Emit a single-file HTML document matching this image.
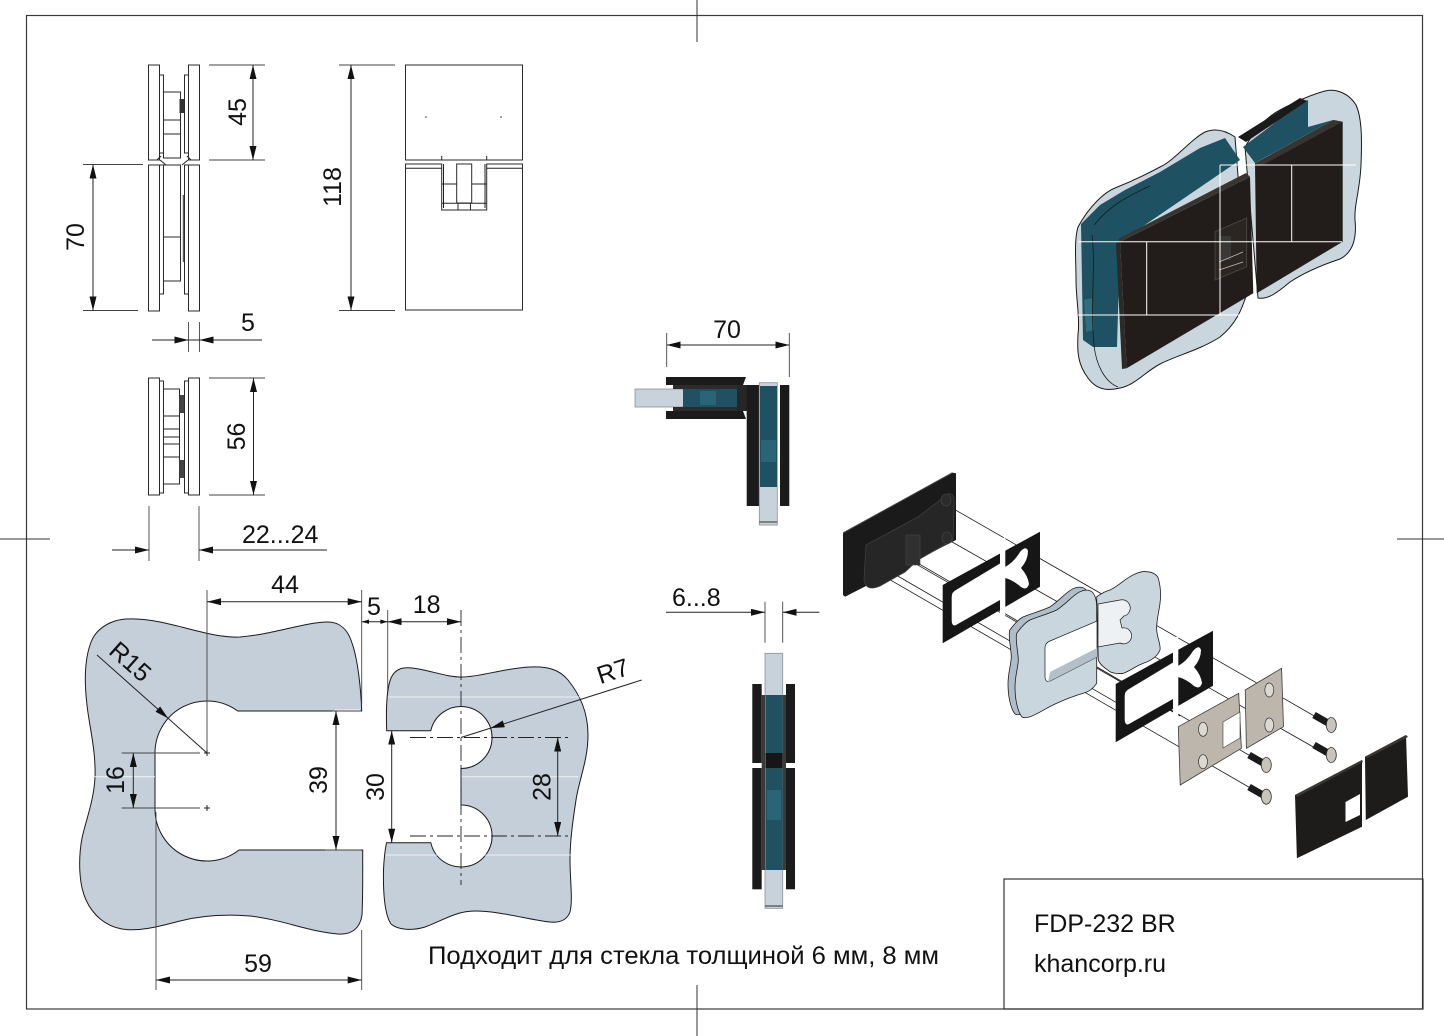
<!DOCTYPE html>
<html><head><meta charset="utf-8">
<style>
html,body{margin:0;padding:0;background:#fff;}
svg{display:block;}
text{font-family:"Liberation Sans",Arial,sans-serif;font-size:25px;fill:#111;}
.l{stroke:#222;stroke-width:1;fill:none;}
.e{stroke:#444;stroke-width:0.9;fill:none;}
.o{stroke:#2a2a2a;stroke-width:1;fill:#fff;}
.c{stroke:#222;stroke-width:0.9;fill:none;stroke-dasharray:16,4,3,4;}
.g{fill:#c4cfd9;stroke:#1a1a1a;stroke-width:1;}
.t{stroke:#1a1a1a;stroke-width:0.8;fill:none;}
.w{stroke:#fff;stroke-width:1;fill:none;}
</style></head>
<body>
<svg width="1444" height="1036" viewBox="0 0 1444 1036" xmlns="http://www.w3.org/2000/svg">
<defs>
<marker id="a" viewBox="0 0 14 7" refX="14" refY="3.5" markerWidth="14" markerHeight="7" markerUnits="userSpaceOnUse" orient="auto-start-reverse"><path d="M0,0L14,3.5L0,7z" fill="#111"/></marker>
</defs>
<rect width="1444" height="1036" fill="#fff"/>
<!-- frame -->
<rect x="26.5" y="15.5" width="1396" height="993.5" fill="none" stroke="#3a3a3a" stroke-width="1.2"/>
<line x1="697" y1="0" x2="697" y2="42" stroke="#333"/>
<line x1="697" y1="985" x2="697" y2="1036" stroke="#333"/>
<line x1="0" y1="539" x2="50" y2="539" stroke="#333"/>
<line x1="1397" y1="539" x2="1444" y2="539" stroke="#333"/>
<rect x="1004" y="879" width="419" height="130" fill="none" stroke="#333" stroke-width="1.2"/>
<text x="1034" y="932">FDP-232 BR</text>
<text x="1034" y="972">khancorp.ru</text>

<!-- ============ SIDE VIEW (top-left) ============ -->
<g>
<rect class="o" x="148.5" y="65" width="11" height="95"/>
<rect class="o" x="188.5" y="65" width="11" height="95"/>
<rect class="o" x="159.5" y="75" width="4" height="78"/>
<rect class="o" x="184.5" y="75" width="4" height="78"/>
<rect class="o" x="163.5" y="92" width="17" height="66"/>
<line class="o" x1="163.5" y1="120" x2="180.5" y2="120"/>
<line class="o" x1="163.5" y1="134" x2="180.5" y2="134"/>
<rect x="179.5" y="99" width="4.5" height="14" fill="#333"/>
<path class="l" d="M157,160 L161,156 M166,165 L160,160 M191,160 L187,156 M182,165 L188,160" stroke-width="0.7"/>
<rect class="o" x="148.5" y="165" width="11" height="146"/>
<rect class="o" x="188.5" y="165" width="11" height="146"/>
<rect class="o" x="159.5" y="165" width="4" height="129"/>
<rect class="o" x="184.5" y="165" width="4" height="129"/>
<rect class="o" x="163.5" y="165" width="17" height="116"/>
<line class="o" x1="163.5" y1="237" x2="180.5" y2="237"/>
<line x1="183.3" y1="195" x2="183.3" y2="262" stroke="#333" stroke-width="1"/>
<!-- dims -->
<line class="e" x1="209" y1="65" x2="265" y2="65"/>
<line class="e" x1="209" y1="160" x2="265" y2="160"/>
<line class="l" x1="253" y1="65" x2="253" y2="160" marker-start="url(#a)" marker-end="url(#a)"/>
<text transform="translate(237,112) rotate(-90)" text-anchor="middle" y="9">45</text>
<line class="e" x1="83" y1="164.5" x2="143" y2="164.5"/>
<line class="e" x1="83" y1="310.5" x2="138" y2="310.5"/>
<line class="l" x1="93" y1="164.5" x2="93" y2="310.5" marker-start="url(#a)" marker-end="url(#a)"/>
<text transform="translate(75,237) rotate(-90)" text-anchor="middle" y="9">70</text>
<line class="e" x1="188.5" y1="322" x2="188.5" y2="352"/>
<line class="e" x1="199.5" y1="322" x2="199.5" y2="352"/>
<line class="l" x1="152" y1="340" x2="188.5" y2="340" marker-end="url(#a)"/>
<line class="l" x1="262" y1="340" x2="199.5" y2="340" marker-end="url(#a)"/>
<line class="l" x1="188.5" y1="340" x2="199.5" y2="340"/>
<text x="248" y="331" text-anchor="middle">5</text>
</g>

<!-- ============ BOTTOM VIEW ============ -->
<g>
<rect class="o" x="148.5" y="378" width="11" height="117"/>
<rect class="o" x="188.5" y="378" width="11" height="117"/>
<rect class="o" x="159.5" y="381" width="4" height="112"/>
<rect class="o" x="184.5" y="381" width="4" height="112"/>
<rect class="o" x="163.5" y="389" width="16" height="95"/>
<path class="l" d="M163.5,416H179.5M163.5,429H179.5M163.5,437H179.5M163.5,444H179.5M163.5,457H179.5" stroke-width="0.8"/>
<rect x="179.5" y="395" width="4.5" height="18" fill="#444"/>
<rect x="179.5" y="460" width="4.5" height="18" fill="#444"/>
<line class="e" x1="209" y1="378" x2="265" y2="378"/>
<line class="e" x1="209" y1="495" x2="265" y2="495"/>
<line class="l" x1="253.5" y1="378" x2="253.5" y2="495" marker-start="url(#a)" marker-end="url(#a)"/>
<text transform="translate(236,436.5) rotate(-90)" text-anchor="middle" y="9">56</text>
<line class="e" x1="149" y1="506" x2="149" y2="561"/>
<line class="e" x1="199" y1="506" x2="199" y2="561"/>
<line class="l" x1="112" y1="550" x2="149" y2="550" marker-end="url(#a)"/>
<line class="l" x1="327" y1="550" x2="199" y2="550" marker-end="url(#a)"/>
<text x="242" y="543">22...24</text>
</g>

<!-- ============ FRONT VIEW (118) ============ -->
<g>
<rect class="o" x="405.5" y="65" width="117" height="95"/>
<path class="o" d="M405.5,164H441.7V210H486.7V164H522.5V310H405.5Z"/>
<path class="l" d="M405.5,168.3H441.7M486.7,168.3H522.5M443.5,164V208M485,164V208" stroke-width="0.8"/>
<rect class="o" x="456.7" y="164" width="15" height="39"/>
<path class="l" d="M441.7,184H456.7M471.7,184H486.7M441.7,203.3H486.7" stroke-width="0.9"/>
<rect class="o" x="458" y="203.3" width="12.5" height="6.7"/>
<path class="l" d="M441.7,160V156M486.7,160V156" stroke-width="0.8"/>
<circle cx="426" cy="117" r="0.8" fill="#333"/>
<circle cx="501" cy="117" r="0.8" fill="#333"/>
<line class="e" x1="339" y1="65" x2="395" y2="65"/>
<line class="e" x1="339" y1="310.5" x2="395" y2="310.5"/>
<line class="l" x1="351" y1="65" x2="351" y2="310.5" marker-start="url(#a)" marker-end="url(#a)"/>
<text transform="translate(332,187) rotate(-90)" text-anchor="middle" y="9">118</text>
</g>

<!-- ============ LEFT GLASS CUTOUT ============ -->
<g>
<path class="g" d="M361.7,711 C361,690 358,660 352,643 C348,630 340,622 328,622 C305,622 275,634 240,637 C215,638 190,628 160,622 C140,618 125,618 115,621 C103,625 94,632 90,645 C85,660 84,680 87,705 C89,725 96,750 95,777 C94,800 86,820 82,838 C78,860 79,885 86,900 C93,915 105,926 122,929 C140,932 160,926 180,921 C200,916 225,914 250,916 C280,919 310,932 338,934 C352,935 360,928 362,915 C363,895 362.7,870 362.7,850 L239,850 A52,52 0 0 1 155,809 L155,753 A52,52 0 0 1 237.7,711 Z"/>
<line class="w" x1="82" y1="776.7" x2="155" y2="776.7" stroke-opacity="0.8"/>
<line class="w" x1="335" y1="710" x2="360" y2="710" stroke-opacity="0.8"/>
<path class="l" d="M204,753H210M207,750V756M204,808H210M207,805V811" stroke-width="0.9"/>
<!-- 44 -->
<line class="e" x1="207" y1="590" x2="207" y2="750"/>
<line class="e" x1="361.7" y1="590" x2="361.7" y2="705"/>
<line class="l" x1="207" y1="601.7" x2="361.7" y2="601.7" marker-start="url(#a)" marker-end="url(#a)"/>
<text x="285" y="593" text-anchor="middle">44</text>
<!-- 5 -->
<line class="e" x1="387.7" y1="610" x2="387.7" y2="728"/>
<line class="l" x1="361.7" y1="621.7" x2="387.7" y2="621.7"/>
<path d="M361.7,621.7L369,619.5L369,623.9Z M387.7,621.7L380.4,619.5L380.4,623.9Z" fill="#111"/>
<text x="374" y="615" text-anchor="middle">5</text>
<!-- 59 -->
<line class="e" x1="156" y1="812" x2="156" y2="990"/>
<line class="e" x1="361.7" y1="930" x2="361.7" y2="990"/>
<line class="l" x1="156" y1="980" x2="361.7" y2="980" marker-start="url(#a)" marker-end="url(#a)"/>
<text x="258" y="972" text-anchor="middle">59</text>
<!-- 16 -->
<line class="e" x1="121.7" y1="753" x2="200" y2="753"/>
<line class="e" x1="121.7" y1="808" x2="200" y2="808"/>
<line class="l" x1="133.3" y1="753" x2="133.3" y2="808" marker-start="url(#a)" marker-end="url(#a)"/>
<text transform="translate(115,780) rotate(-90)" text-anchor="middle" y="9">16</text>
<!-- 39 -->
<line class="e" x1="332" y1="711" x2="361" y2="711" stroke-width="0.6"/>
<line class="e" x1="325" y1="850" x2="361" y2="850" stroke-width="0.6"/>
<line class="l" x1="336" y1="711" x2="336" y2="850" marker-start="url(#a)" marker-end="url(#a)"/>
<text transform="translate(318,780) rotate(-90)" text-anchor="middle" y="9">39</text>
<!-- R15 -->
<line class="l" x1="97" y1="655" x2="168.2" y2="718.4" marker-end="url(#a)"/>
<line class="l" x1="168.2" y1="718.4" x2="207" y2="753"/>
<text transform="translate(130,662) rotate(41.7)" text-anchor="middle" y="8">R15</text>
</g>

<!-- ============ RIGHT GLASS CUTOUT ============ -->
<g>
<path class="g" d="M386.7,730.7 C386,712 386,690 391,678 C395,669 402,667 412,668 C430,670 445,677 462,677 C480,677 505,668 530,667 C548,666 560,670 568,680 C580,695 588,712 588,735 C588,760 579,780 576,800 C573,820 570,840 570,860 C570,880 573,900 570,912 C567,920 560,923 550,922 C530,920 500,911 475,911 C455,911 440,922 425,927 C412,931 398,930 391,924 C385,915 383,895 383.5,870 C384,858 385,850 386.5,842.7 L430.8,842.7 A31,31 0 1 0 461,805 L461,768.5 A31,31 0 1 0 430.8,730.7 Z"/>
<line class="w" x1="388" y1="697" x2="583" y2="697" stroke-opacity="0.7"/>
<line class="w" x1="461" y1="776.7" x2="578" y2="776.7" stroke-opacity="0.7"/>
<line class="w" x1="386" y1="855" x2="572" y2="855" stroke-opacity="0.7"/>
<line class="c" x1="410" y1="737.5" x2="568" y2="737.5"/>
<line class="c" x1="410" y1="836" x2="568" y2="836"/>
<line class="c" x1="461" y1="610" x2="461" y2="885"/>
<line class="l" x1="387.7" y1="621.7" x2="461" y2="621.7" marker-start="url(#a)" marker-end="url(#a)"/>
<text x="426.7" y="613" text-anchor="middle">18</text>
<line class="l" x1="391.7" y1="730.7" x2="391.7" y2="842.7" marker-start="url(#a)" marker-end="url(#a)"/>
<text transform="translate(375,787) rotate(-90)" text-anchor="middle" y="9">30</text>
<line class="l" x1="557.7" y1="737.5" x2="557.7" y2="836" marker-start="url(#a)" marker-end="url(#a)"/>
<text transform="translate(541.7,787) rotate(-90)" text-anchor="middle" y="9">28</text>
<line class="l" x1="641.7" y1="680" x2="490.5" y2="728.1" marker-end="url(#a)"/>
<line class="l" x1="490.5" y1="728.1" x2="461" y2="737.5"/>
<text transform="translate(613,671.7) rotate(-18)" text-anchor="middle" y="8">R7</text>
</g>

<text x="428" y="964" font-size="23" textLength="511" lengthAdjust="spacingAndGlyphs">Подходит для стекла толщиной 6 мм, 8 мм</text>

<!-- ============ CORNER VIEW (70) ============ -->
<g>
<line class="e" x1="666.7" y1="333" x2="666.7" y2="367"/>
<line class="e" x1="789.3" y1="333" x2="789.3" y2="377"/>
<line class="l" x1="666.7" y1="345" x2="789.3" y2="345" marker-start="url(#a)" marker-end="url(#a)"/>
<text x="727" y="338" text-anchor="middle">70</text>
<rect x="635" y="389" width="49" height="18" fill="#c8d2da" stroke="#8a9299" stroke-width="0.8"/>
<rect x="683" y="389" width="54" height="18" fill="#1f5163"/>
<rect x="700" y="391" width="16" height="14" fill="#2a6477"/>
<polygon points="666,377 746,377 743,385 666,385" fill="#1b1b1b"/>
<rect x="673" y="385" width="64" height="4" fill="#2c2c2c"/>
<rect x="673" y="407" width="64" height="4" fill="#2c2c2c"/>
<polygon points="666,411 743,411 746,419 666,419" fill="#1b1b1b"/>
<rect x="737" y="385" width="10" height="26" fill="#262626"/>
<rect x="746.7" y="385" width="12.6" height="121" fill="#1b1b1b"/>
<rect x="780" y="385" width="9.3" height="121" fill="#1b1b1b"/>
<rect x="759.3" y="382.7" width="18" height="142.3" fill="#c8d2da" stroke="#8a9299" stroke-width="0.8"/>
<rect x="760" y="386" width="17" height="101" fill="#1f5163"/>
<rect x="761" y="440" width="15" height="22" fill="#2a6477"/>
<line x1="759.3" y1="522" x2="777.3" y2="522" stroke="#666" stroke-width="1.5"/>
</g>

<!-- ============ SIDE VIEW 6...8 ============ -->
<g>
<line class="e" x1="765" y1="601.7" x2="765" y2="642.7"/>
<line class="e" x1="782.7" y1="601.7" x2="782.7" y2="642.7"/>
<line class="l" x1="666" y1="612.3" x2="765" y2="612.3" marker-end="url(#a)"/>
<line class="l" x1="819.3" y1="612.3" x2="782.7" y2="612.3" marker-end="url(#a)"/>
<text x="672" y="606">6...8</text>
<rect x="765" y="653.3" width="17.7" height="255" fill="#c8d2da" stroke="#8a9299" stroke-width="0.8"/>
<rect x="765.5" y="695" width="17" height="59" fill="#1f5163"/>
<rect x="765.5" y="753" width="17" height="15" fill="#161616"/>
<rect x="765.5" y="768" width="17" height="102" fill="#1f5163"/>
<rect x="767" y="790" width="14" height="30" fill="#2a6477"/>
<rect x="752.3" y="684" width="9.4" height="79" fill="#1b1b1b"/>
<rect x="752.3" y="768" width="9.4" height="121.3" fill="#1b1b1b"/>
<rect x="786" y="684" width="9" height="79" fill="#1b1b1b"/>
<rect x="786" y="768" width="9" height="121.3" fill="#1b1b1b"/>
<rect x="761.7" y="695" width="3.3" height="175" fill="#3a3a3a"/>
<rect x="782.7" y="695" width="3.3" height="175" fill="#3a3a3a"/>
<line x1="765" y1="906" x2="782.7" y2="906" stroke="#666" stroke-width="1.5"/>
</g>

<!-- ============ 3D ASSEMBLED VIEW ============ -->
<g>
<path class="g" d="M1078,227 C1090,205 1105,192 1115,188 C1130,182 1145,175 1160,167 C1175,160 1190,140 1205,132 C1215,128 1225,130 1235,137 L1247,293 C1242,310 1235,325 1220,337 C1200,350 1175,356 1160,364 C1145,372 1135,385 1120,388 C1105,392 1095,388 1088,378 C1078,365 1077,352 1078,335 C1080,318 1076,298 1076,280 C1076,260 1074,240 1078,227 Z" style="fill:#c9d6dd"/>
<path class="g" d="M1245,147 C1255,130 1265,118 1280,110 C1295,102 1310,95 1325,91 C1338,88 1350,95 1356,105 C1362,118 1362,140 1361,165 C1360,190 1354,205 1355,220 C1357,240 1352,253 1340,259 C1322,265 1305,272 1290,282 C1278,292 1268,300 1258,298 Z" style="fill:#c9d6dd"/>
<polygon points="1081,224 1100,205 1125,190 1160,172 1200,148 1225,138 1240,160 1120,242 1117,347 1093,347 1083,340" fill="#1e5162"/>
<polygon points="1084,300 1092,298 1094,330 1086,332" fill="#2f6e80"/>
<polygon points="1243,147 1268,128 1300,103 1308,100 1308,127 1333,120 1255,163" fill="#1e5162"/>
<polygon points="1238,137 1300,98 1307,101 1246,142" fill="#1a1a1a"/>
<path d="M1094,225 C1110,205 1130,195 1150,186" stroke="#1a1a1a" stroke-width="0.8" fill="none"/>
<path d="M1092,235 C1096,270 1090,300 1094,345 C1096,365 1105,382 1118,387" stroke="#1a1a1a" stroke-width="0.8" fill="none"/>
<polygon points="1120,241.7 1250,176.7 1253.3,293.3 1126.7,368.3" fill="#221d1a"/>
<polygon points="1118,239 1246,173 1250,176.7 1120,241.7" fill="#3a3430"/>
<polygon points="1116,243 1120,241.7 1126.7,368.3 1122,369" fill="#2e2925"/>
<polygon points="1255,163.3 1333.3,120 1342.7,121.7 1342.7,241.7 1256.7,293.3" fill="#221d1a"/>
<polygon points="1255,163.3 1333.3,120 1342.7,121.7 1262,165.5" fill="#3a3430"/>
<polygon points="1215,231.7 1246.7,218 1246.7,266.7 1215,280" fill="#2c2622" stroke="#4a4a4a" stroke-width="0.8"/>
<rect x="1219" y="236" width="12" height="24" fill="#3a3836"/>
<path d="M1219,262 L1243,252 M1219,270 L1243,262" stroke="#bbb" stroke-width="0.8"/>
<path class="w" d="M1078,241.7H1342M1220,165H1356M1078,315H1242M1220,165V315M1291.7,165V241.7M1146.7,241.7V315" stroke-width="0.9"/>
</g>

<!-- ============ EXPLODED VIEW ============ -->
<g>
<path class="t" d="M952.5,508.3L1331,725.6 M948.6,540L1331,757 M883.6,543.3L1266,765 M887.4,578.3L1266,797 M912,561.7L1180,716 M870,560L1150,722"/>
<polygon points="843,533 952.5,472.7 956,473.3 956,540 845,596.7 843,595" fill="#1a1a1a"/>
<line x1="843" y1="533" x2="952.5" y2="472.7" stroke="#444" stroke-width="1"/>
<path d="M866,545 L918,517 L948,494 Q955,492 954,505 L953,540 L918,560 L905,572 L880,586 Q866,592 864,580 Z" fill="#262626" stroke="#3e3e3e" stroke-width="0.8"/>
<rect x="906" y="535" width="14" height="30" fill="#303030" stroke="#454545" stroke-width="0.6"/>
<ellipse cx="946" cy="500" rx="5" ry="6" fill="#2b2b2b" stroke="#4a4a4a" stroke-width="0.6"/>
<ellipse cx="947" cy="538" rx="5" ry="6" fill="#2b2b2b" stroke="#4a4a4a" stroke-width="0.6"/>
<!-- gasket 1 -->
<g id="gk">
<polygon points="942.7,585 1040,531.7 1040,586.7 942.7,643.3" fill="#161616"/>
<path d="M956,590 L1000,563.5 L1000,600 L956,625 Q951.7,627 951.7,620 L951.7,597 Q951.7,592 956,590 Z" fill="#fff"/>
<polygon points="1000,540 1005.3,537 1005.3,620 1000,622" fill="#fff"/>
<path d="M1005,567 Q1014,562 1020,552 Q1026,545 1028,551 Q1028,560 1021,568 Q1028,576 1029,584 Q1027,591 1021,587 Q1013,580 1005,578 Z" fill="#fff"/>
</g>
<use href="#gk" transform="translate(173,99)"/>
<!-- middle glass left piece -->
<path d="M1009.7,630.3 C1015,623 1019,619 1023,617 C1033,613 1041,611 1049.7,607 C1059,601 1066,592 1073,588.7 C1079,586 1084,587 1086.3,590.3 C1089,594 1089.7,599 1089.7,603.7 L1089.7,680.3 C1086,686 1081,689 1076.3,690.3 C1067,693 1059,696 1049.7,700.3 C1039,705 1031,711 1023,713.7 C1019,715 1016,715 1014.7,713.7 C1010,707 1008,695 1008,683.7 C1008,673 1011,665 1011.3,657 C1011,647 1008,637 1009.7,630.3 Z" fill="#aebdc7" stroke="#1a1a1a" stroke-width="0.8"/>
<path d="M1016.7,633.3 C1022,626 1026,622 1030,620 C1040,616 1048,614 1056.7,610 C1066,604 1073,595 1080,591.7 C1086,589 1091,590 1093.3,593.3 C1096,597 1096.7,602 1096.7,606.7 L1096.7,683.3 C1093,689 1088,692 1083.3,693.3 C1074,696 1066,699 1056.7,703.3 C1046,708 1038,714 1030,716.7 C1026,718 1023,718 1021.7,716.7 C1017,710 1015,698 1015,686.7 C1015,676 1018,668 1018.3,660 C1018,650 1015,640 1016.7,633.3 Z" fill="#c9d6de" stroke="#1a1a1a" stroke-width="0.8"/>
<path d="M1050,641 L1097,621 L1097,657 L1050,681 Q1045,683 1045,676 L1045,648 Q1045,643 1050,641 Z" fill="#fff" stroke="#1a1a1a" stroke-width="0.7"/>
<polygon points="1050,672 1097,648 1097,657 1048,682" fill="#b3c0c9"/>
<!-- middle glass right piece -->
<path d="M1096.7,596.7 C1102,593 1106,591 1110,590 C1118,586 1124,580 1130,576.7 C1136,573 1142,571 1146.7,571.7 C1153,572 1157,575 1158.3,578.3 C1161,588 1161,596 1160,603.3 C1159,612 1156,622 1156.7,630 C1157,638 1161,644 1160,650 C1157,657 1150,661 1143.3,663.3 C1136,666 1130,671 1123.3,673.3 C1118,674 1113,673 1110,671.7 C1105,668 1100,665 1098.3,660 Z" fill="#c9d6de" stroke="#1a1a1a" stroke-width="0.8"/>
<path d="M1098,604 L1120,600 A8,8 0 1 1 1124,616 L1120,620 L1122,628 A8,8 0 1 1 1120,643 L1098,647 Z" fill="#eef1f3" stroke="#1a1a1a" stroke-width="0.7"/>
<!-- metal plates -->
<polygon points="1178.3,726.7 1238.7,693.3 1241.4,748.3 1180.2,785" fill="#bcb6ad" stroke="#3a3a3a" stroke-width="0.8"/>
<polygon points="1223,722 1240,712 1240,738 1223,748" fill="#fff" stroke="#3a3a3a" stroke-width="0.6"/>
<polygon points="1245.2,690 1281.6,668.3 1283.5,726.7 1246.4,748.3" fill="#bcb6ad" stroke="#3a3a3a" stroke-width="0.8"/>
<ellipse cx="1203" cy="729.3" rx="4.5" ry="7" fill="#dcd8d2" stroke="#333" stroke-width="0.7"/>
<ellipse cx="1203" cy="761.7" rx="4.5" ry="7" fill="#dcd8d2" stroke="#333" stroke-width="0.7"/>
<ellipse cx="1269.3" cy="690" rx="4.5" ry="7" fill="#dcd8d2" stroke="#333" stroke-width="0.7"/>
<ellipse cx="1269.3" cy="725" rx="4.5" ry="7" fill="#dcd8d2" stroke="#333" stroke-width="0.7"/>
<!-- screws -->
<g stroke-linecap="butt">
<line x1="1314" y1="715" x2="1328" y2="723" stroke="#1a1a1a" stroke-width="7"/>
<ellipse cx="1331.3" cy="725" rx="5" ry="7.5" fill="#c8c4bc" stroke="#333" stroke-width="0.8"/>
<line x1="1314" y1="745" x2="1328" y2="753" stroke="#1a1a1a" stroke-width="7"/>
<ellipse cx="1331.3" cy="755" rx="5" ry="7.5" fill="#c8c4bc" stroke="#333" stroke-width="0.8"/>
<line x1="1249" y1="755" x2="1263" y2="763" stroke="#1a1a1a" stroke-width="7"/>
<ellipse cx="1266.3" cy="765" rx="5" ry="7.5" fill="#c8c4bc" stroke="#333" stroke-width="0.8"/>
<line x1="1249" y1="787" x2="1263" y2="795" stroke="#1a1a1a" stroke-width="7"/>
<ellipse cx="1266.3" cy="796.7" rx="5" ry="7.5" fill="#c8c4bc" stroke="#333" stroke-width="0.8"/>
</g>
<!-- covers -->
<polygon points="1295,795 1362,760 1362,826.7 1296.9,858.3" fill="#1e1c1b"/>
<polygon points="1295,795 1362,760 1363,762 1297,797" fill="#3a3633"/>
<polygon points="1345.5,802 1360,794 1360,815 1345.5,822" fill="#fff"/>
<polygon points="1365,756.7 1406,735 1408,796.7 1365.8,820" fill="#1e1c1b"/>
<polygon points="1365,756.7 1406,735 1408,737 1367,758.5" fill="#3a3633"/>
</g>
</svg>
</body></html>
